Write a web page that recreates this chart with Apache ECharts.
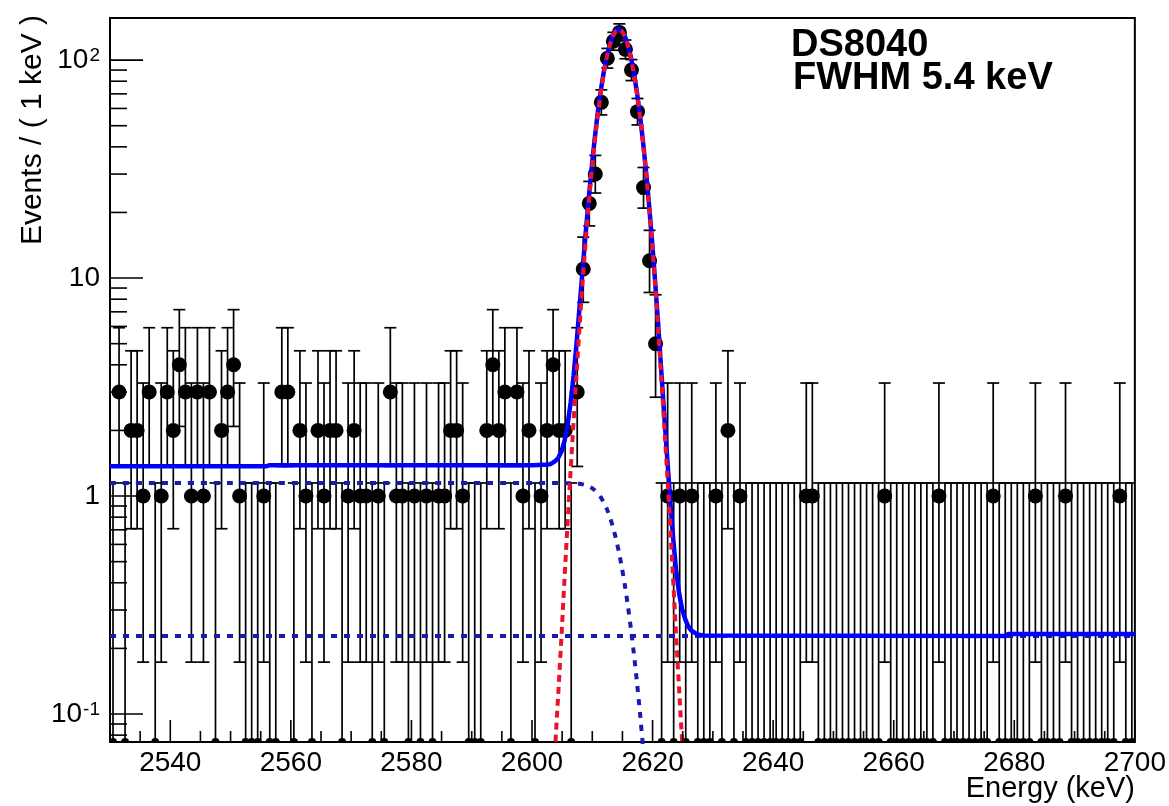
<!DOCTYPE html>
<html>
<head>
<meta charset="utf-8">
<script src="https://cdn.jsdelivr.net/npm/echarts@6/dist/echarts.min.js"></script>
<style>
  html, body { margin: 0; padding: 0; background: #ffffff; }
  #chart { width: 1169px; height: 806px; }
</style>
</head>
<body>
<div id="chart"></div>
<script>
// ---- Histogram: 1 keV bins starting at 2530 keV ----
const binStart = 2530;
const binWidth = 1;
const counts = [
  0, 3, 0, 2, 2, 1, 3, 0, 1, 3,
  2, 4, 3, 1, 3, 1, 3, 0, 2, 3,
  4, 1, 0, 0, 0, 1, 0, 0, 3, 3,
  0, 2, 1, 0, 2, 1, 2, 2, 0, 1,
  2, 1, 1, 0, 1, 0, 3, 1, 1, 0,
  1, 0, 1, 0, 1, 1, 2, 2, 1, 0,
  0, 0, 2, 4, 2, 3, 0, 3, 1, 2,
  0, 1, 2, 4, 2, 2, 0, 3, 11, 22,
  30, 64, 102, 122, 134, 112, 90, 58, 26, 12,
  5, 0, 1, 0, 1, 0, 1, 0, 0, 0,
  1, 0, 2, 0, 1, 0, 0, 0, 0, 0,
  0, 0, 0, 0, 0, 1, 1, 0, 0, 0,
  0, 0, 0, 0, 0, 0, 0, 0, 1, 0,
  0, 0, 0, 0, 0, 0, 0, 1, 0, 0,
  0, 0, 0, 0, 0, 0, 1, 0, 0, 0,
  0, 0, 0, 1, 0, 0, 0, 0, 1, 0,
  0, 0, 0, 0, 0, 0, 0, 1, 0, 0
];

// Poisson 68% intervals for small observed counts (index = count)
const poissonLow  = [0, 0.173, 0.708, 1.367, 2.086, 2.840];
const poissonHigh = [1.148, 3.300, 4.638, 5.918, 7.163, 8.382];

// ---- Fit curves ----
// total model (solid)
const totalE = [2530, 2556, 2556.5, 2600, 2602, 2603,
  2603.4, 2603.9, 2604.4, 2604.9, 2605.4, 2605.9, 2606.4, 2606.9, 2607.4, 2607.9,
  2608.4, 2608.9, 2609.4, 2609.9, 2610.4, 2610.9, 2611.4, 2611.9, 2612.4, 2612.9,
  2613.4, 2613.9, 2614.4, 2614.9, 2615.4, 2615.9, 2616.4, 2616.9, 2617.4, 2617.9,
  2618.4, 2618.9, 2619.4, 2619.9, 2620.4, 2620.9, 2621.4, 2621.9, 2622.4, 2622.9,
  2623.4, 2623.9, 2624.4, 2624.9, 2625.4, 2625.9, 2626.4, 2627.4, 2628.4,
  2678.6, 2679, 2700];
const totalV = [1.37, 1.37, 1.385, 1.385, 1.39, 1.40,
  1.42, 1.45, 1.505, 1.605, 1.79, 2.12, 2.67, 3.57, 5.05, 7.43,
  10.99, 16.05, 23.04, 32.2, 43.6, 57.1, 72.1, 88.1, 103.8, 117.8,
  129.2, 136.4, 138.8, 136.2, 128.8, 117.3, 103.2, 87.3, 71.3, 56.1,
  42.6, 31.2, 21.96, 14.95, 9.87, 6.30, 3.91, 2.43, 1.53, 0.978,
  0.648, 0.458, 0.358, 0.303, 0.273, 0.253, 0.242, 0.232, 0.229,
  0.228, 0.233, 0.233];

// peak component (dashed red)
const peakE = [2603.4, 2603.9, 2604.4, 2604.9, 2605.4, 2605.9, 2606.4, 2606.9, 2607.4, 2607.9,
  2608.4, 2608.9, 2609.4, 2609.9, 2610.4, 2610.9, 2611.4, 2611.9, 2612.4, 2612.9,
  2613.4, 2613.9, 2614.4, 2614.9, 2615.4, 2615.9, 2616.4, 2616.9, 2617.4, 2617.9,
  2618.4, 2618.9, 2619.4, 2619.9, 2620.4, 2620.9, 2621.4, 2621.9, 2622.4, 2622.9,
  2623.4, 2623.9, 2624.4, 2624.9, 2625.4];
const peakV = [0.045, 0.075, 0.13, 0.23, 0.42, 0.75, 1.3, 2.2, 3.68, 6.06,
  9.63, 14.7, 21.7, 30.9, 42.3, 55.8, 70.9, 86.9, 102.7, 116.8,
  128.2, 135.5, 138, 135.5, 128.2, 116.8, 102.7, 86.9, 70.9, 55.8,
  42.3, 30.9, 21.7, 14.7, 9.63, 6.06, 3.68, 2.2, 1.3, 0.75,
  0.42, 0.23, 0.13, 0.075, 0.045];

// step component below the peak (dotted)
const stepE = [2530, 2603.4, 2605.4, 2606.4, 2606.9, 2607.4, 2607.9, 2608.4, 2608.9, 2609.4,
  2609.9, 2610.4, 2610.9, 2611.4, 2611.9, 2612.4, 2612.9, 2613.4, 2613.9, 2614.4,
  2614.9, 2615.4, 2615.9, 2616.4, 2616.9, 2617.4, 2617.9, 2618.4, 2618.9, 2619.4,
  2619.9, 2620.4];
const stepV = [1.147, 1.147, 1.146, 1.145, 1.144, 1.141, 1.138, 1.131, 1.122, 1.109,
  1.090, 1.064, 1.031, 0.988, 0.936, 0.874, 0.803, 0.725, 0.642, 0.556,
  0.471, 0.390, 0.315, 0.247, 0.189, 0.141, 0.102, 0.0714, 0.0487, 0.0322,
  0.0206, 0.0128];

// flat background component (dotted)
const bkgE = [2530, 2700];
const bkgV = [0.228, 0.228];

// ---- Axes ----
const xMin = 2530, xMax = 2700;
const yMin = 0.0744, yMax = 156;
const xTicksMajor = [2540, 2560, 2580, 2600, 2620, 2640, 2660, 2680, 2700];
const xTicksMinor = [2535, 2545, 2550, 2555, 2565, 2570, 2575, 2585, 2590, 2595,
  2605, 2610, 2615, 2625, 2630, 2635, 2645, 2650, 2655, 2665, 2670, 2675,
  2685, 2690, 2695];
const yTicksMajor = [0.1, 1, 10, 100];
const yTicksMinor = [0.08, 0.09, 0.2, 0.3, 0.4, 0.5, 0.6, 0.7, 0.8, 0.9,
  2, 3, 4, 5, 6, 7, 8, 9, 20, 30, 40, 50, 60, 70, 80, 90];

const FONT = '"Liberation Sans", Arial, Helvetica, sans-serif';

// bins -> [centre, count]
const bins = counts.map((n, i) => [binStart + (i + 0.5) * binWidth, n]);

function lowerError(n) {
  if (n < poissonLow.length) return poissonLow[n];
  const r = 1 - 1 / (9 * n) - 1 / (3 * Math.sqrt(n));
  return n * r * r * r;
}
function upperError(n) {
  if (n < poissonHigh.length) return poissonHigh[n];
  const m = n + 1;
  const r = 1 - 1 / (9 * m) + 1 / (3 * Math.sqrt(m));
  return m * r * r * r;
}

const errorData = bins.map(([e, n]) => [e, lowerError(n), upperError(n), n]);
const pointData = bins.filter(([e, n]) => n > 0);
const pairs = (xs, ys) => xs.map((x, i) => [x, ys[i]]);

const chart = echarts.init(document.getElementById('chart'), null, { renderer: 'canvas' });

const option = {
  animation: false,
  backgroundColor: '#ffffff',
  textStyle: { fontFamily: FONT },
  grid: {
    left: 110, right: 34, top: 18, bottom: 64,
    show: true, borderColor: '#000', borderWidth: 2, backgroundColor: 'transparent'
  },
  xAxis: {
    type: 'value', min: xMin, max: xMax, interval: 10,
    axisLine: { show: false }, axisTick: { show: false }, splitLine: { show: false },
    axisLabel: {
      formatter: v => (v % 20 === 0 ? String(v) : ''),
      fontSize: 28, color: '#000', fontFamily: FONT, margin: 7,
      showMinLabel: false
    }
  },
  yAxis: {
    type: 'log', logBase: 10, min: yMin, max: yMax,
    axisLine: { show: false }, axisTick: { show: false }, splitLine: { show: false },
    minorTick: { show: false },
    axisLabel: {
      margin: 10,
      formatter: v => {
        const l = Math.log10(v);
        const p = Math.round(l);
        if (Math.abs(l - p) > 1e-6) return '';
        if (p === 0) return '{b|1}';
        if (p === 1) return '{b|10}';
        return '{b|10}{s|' + String(p) + '}';
      },
      rich: {
        b: { fontSize: 28, fontFamily: FONT, color: '#000', lineHeight: 28, verticalAlign: 'bottom' },
        s: { fontSize: 19, fontFamily: FONT, color: '#000', lineHeight: 19, verticalAlign: 'top', padding: [0, 0, 14, 1] }
      }
    }
  },
  graphic: [
    { type: 'text', x: 1135, y: 789, style: { text: 'Energy (keV)', font: '29px ' + FONT, fill: '#000', align: 'right', verticalAlign: 'middle' } },
    { type: 'text', x: 33, y: 15, rotation: Math.PI / 2, style: { text: 'Events / ( 1 keV )', font: '30px ' + FONT, fill: '#000', align: 'right', verticalAlign: 'middle' } },
    { type: 'text', x: 791, y: 46, style: { text: 'DS8040', font: 'bold 38px ' + FONT, fill: '#000', align: 'left', verticalAlign: 'middle' } },
    { type: 'text', x: 793, y: 79, style: { text: 'FWHM 5.4 keV', font: 'bold 38px ' + FONT, fill: '#000', align: 'left', verticalAlign: 'middle' } }
  ],
  series: [
    // error bars with caps; empty bins reach the frame floor
    {
      type: 'custom', clip: true, silent: true, z: 2,
      encode: { x: 0, y: 2 },
      data: errorData,
      renderItem: (params, api) => {
        const e = api.value(0), lo = api.value(1), hi = api.value(2);
        const cs = params.coordSys;
        const floor = cs.y + cs.height;
        const top = api.coord([e, hi]);
        const bottomY = lo > 0 ? api.coord([e, lo])[1] : floor + 10;
        const st = { stroke: '#000', lineWidth: 1.7 };
        const cap = 6;
        const children = [
          { type: 'line', shape: { x1: top[0], y1: top[1], x2: top[0], y2: bottomY }, style: st },
          { type: 'line', shape: { x1: top[0] - cap, y1: top[1], x2: top[0] + cap, y2: top[1] }, style: st }
        ];
        if (lo > 0) {
          children.push({ type: 'line', shape: { x1: top[0] - cap, y1: bottomY, x2: top[0] + cap, y2: bottomY }, style: st });
        } else {
          children.push({ type: 'circle', shape: { cx: top[0], cy: floor, r: 4 }, style: { fill: '#000' } });
        }
        return { type: 'group', children };
      }
    },
    // data points
    {
      type: 'scatter', data: pointData, symbol: 'circle', symbolSize: 15,
      itemStyle: { color: '#000', opacity: 1 }, silent: true, z: 3
    },
    // flat background
    {
      type: 'line', data: pairs(bkgE, bkgV), showSymbol: false, silent: true, z: 4,
      lineStyle: { color: '#1a1ab0', width: 4, type: [6, 7], cap: 'butt' }
    },
    // step component
    {
      type: 'line', data: pairs(stepE, stepV), showSymbol: false, silent: true, z: 4, smooth: 0.2,
      lineStyle: { color: '#1a1ab0', width: 4, type: [6, 7], cap: 'butt' }
    },
    // total model
    {
      type: 'line', data: pairs(totalE, totalV), showSymbol: false, silent: true, z: 5,
      lineStyle: { color: '#0000ff', width: 4.5 }
    },
    // peak component
    {
      type: 'line', data: pairs(peakE, peakV), showSymbol: false, silent: true, z: 6,
      lineStyle: { color: '#f0102a', width: 4, type: [7, 5], cap: 'butt' }
    },
    // y axis ticks (inside the frame)
    {
      type: 'custom', silent: true, z: 7,
      data: yTicksMajor.map(v => [xMin, v, 33]).concat(yTicksMinor.map(v => [xMin, v, 17])),
      renderItem: (params, api) => {
        const p = api.coord([api.value(0), api.value(1)]);
        const len = api.value(2);
        return { type: 'line', shape: { x1: p[0], y1: p[1], x2: p[0] + len, y2: p[1] }, style: { stroke: '#000', lineWidth: 1.6 } };
      }
    },
    // x axis ticks (inside the frame)
    {
      type: 'custom', silent: true, z: 7,
      data: xTicksMajor.map(v => [v, yMin, 22]).concat(xTicksMinor.map(v => [v, yMin, 11])),
      renderItem: (params, api) => {
        const p = api.coord([api.value(0), api.value(1)]);
        const len = api.value(2);
        return { type: 'line', shape: { x1: p[0], y1: p[1], x2: p[0], y2: p[1] - len }, style: { stroke: '#000', lineWidth: 1.6 } };
      }
    }
  ]
};

chart.setOption(option);
</script>
</body>
</html>
